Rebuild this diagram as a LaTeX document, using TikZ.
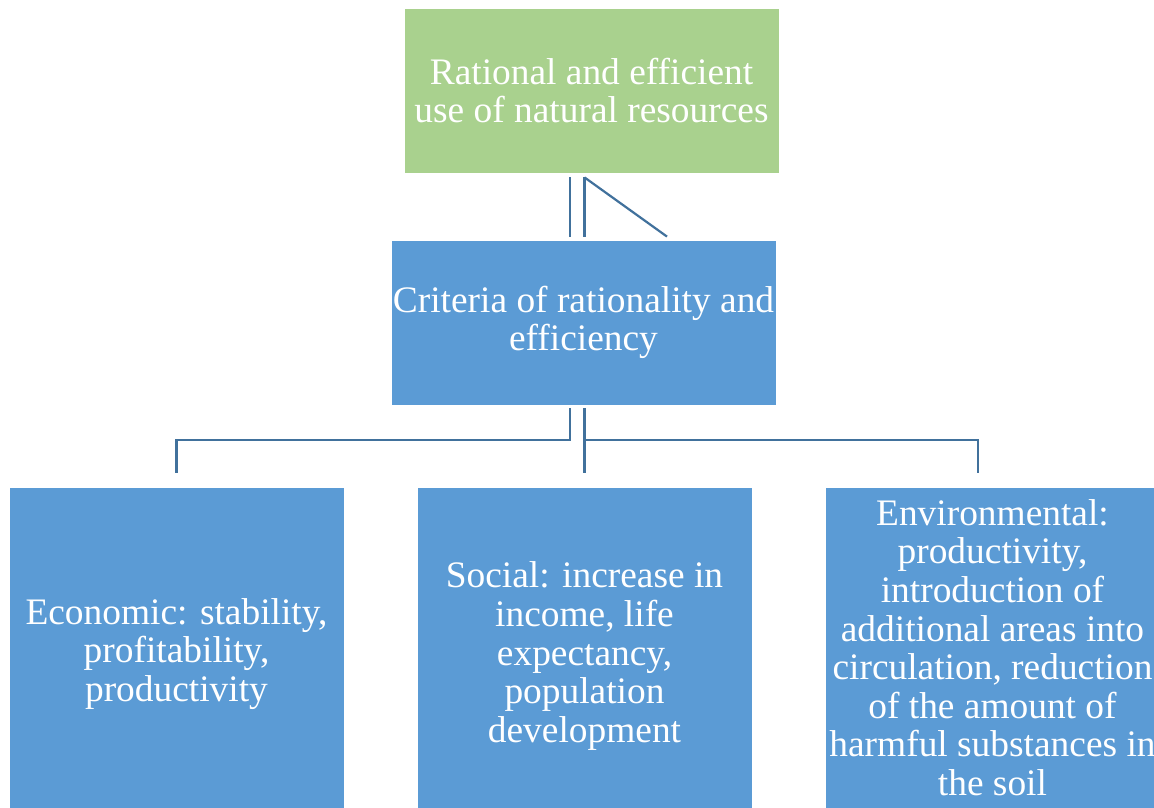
\documentclass[tikz,border=0pt]{standalone}
\usepackage{fontspec}
\setmainfont{Liberation Serif}
\definecolor{boxgreen}{HTML}{A9D18E}
\definecolor{boxblue}{HTML}{5B9BD5}
\definecolor{linkblue}{HTML}{41719C}
\begin{document}
\begin{tikzpicture}[x=1pt,y=-1pt,
  box/.style={rectangle, draw=white, line width=0.8pt, text=white, align=center, inner sep=0pt,
    font=\fontsize{37.4}{38.6}\selectfont},
  topbox/.style={box, fill=boxgreen, minimum width=375pt, minimum height=165pt},
  midbox/.style={box, fill=boxblue, minimum width=385pt, minimum height=165pt},
  leafbox/.style={box, fill=boxblue, minimum width=335pt, minimum height=321pt},
  conn/.style={draw=linkblue, line width=2.2pt}]
\useasboundingbox (0,0) rectangle (1154,808);
\clip (0,0) rectangle (1154,808);
\fill[white] (0,0) rectangle (1154,808);

\node[topbox] (top) at (591.5,90.5) {Rational and efficient\\use of natural resources};
\node[midbox] (crit) at (583.5,322.5) {Criteria of rationality and\\efficiency};
\node[leafbox, minimum height=334pt] (econ) at (176.5,654) {Economic: stability,\\profitability,\\productivity};
\node[leafbox, minimum height=338pt] (soc) at (584.5,656) {Social: increase in\\income, life\\expectancy,\\population\\development};
\node[leafbox] (env) at (992.5,647.5) {Environmental:\\productivity,\\introduction of\\additional areas into\\circulation, reduction\\of the amount of\\harmful substances in\\the soil};

\coordinate (c1) at (570,0);
\coordinate (c2) at (584.5,0);
\coordinate (c3) at (667,0);
\coordinate (c4) at (978,0);
\coordinate (hb) at (0,440);

% top connectors
\draw[conn, shorten <=4pt, shorten >=3pt] (top.south -| c1) -- (crit.north -| c1);
\draw[conn, shorten <=4pt, shorten >=3pt] (top.south -| c2) -- (crit.north -| c2);
\draw[conn] ([yshift=-4pt]top.south -| c2) -- ([yshift=3pt]crit.north -| c3);

% bottom connectors
\draw[conn, shorten <=3pt, shorten >=14pt] (crit.south -| c1) -- (c1 |- hb) -| (econ.north);
\draw[conn, shorten <=3pt, shorten >=14pt] (crit.south -| c2) -- (soc.north -| c2);
\draw[conn, shorten <=3pt, shorten >=14pt] (crit.south -| c2) -- (c2 |- hb) -| (env.north -| c4);
\end{tikzpicture}
\end{document}
